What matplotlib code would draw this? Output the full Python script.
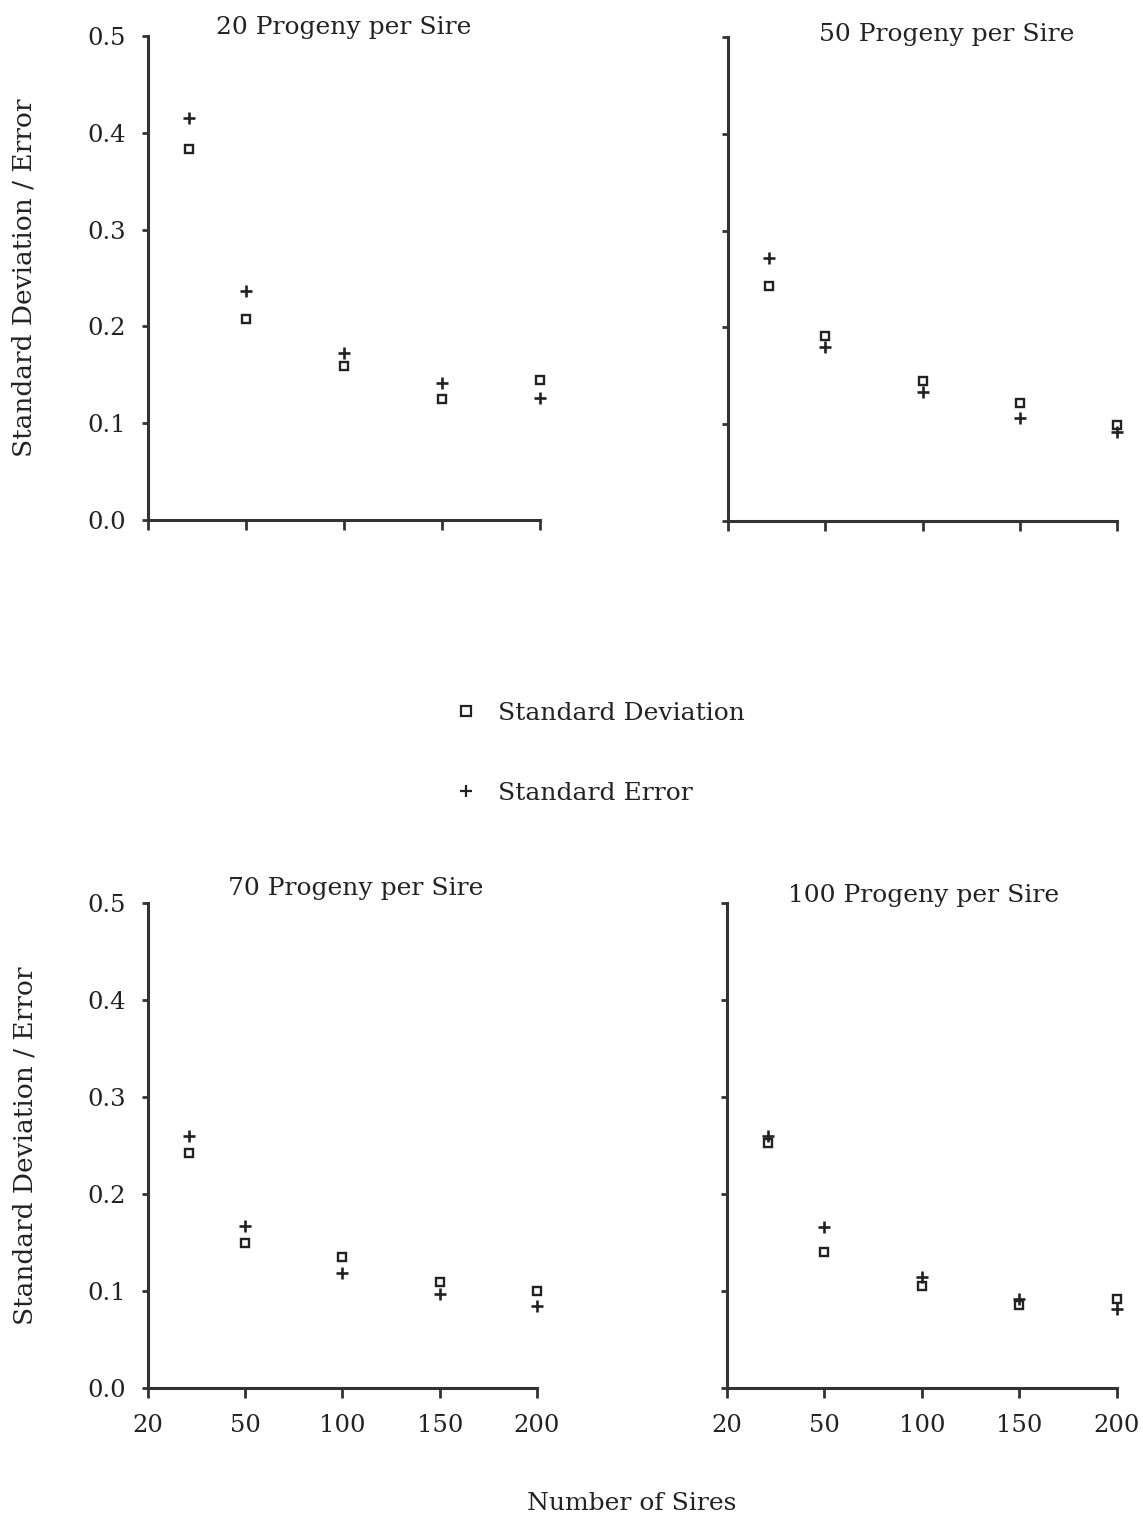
import matplotlib
matplotlib.use('Agg')
import matplotlib.pyplot as plt
from matplotlib.lines import Line2D

plt.rcParams['font.family'] = ['DejaVu Serif']

# Number of sires (x tick labels) and where each group is plotted
sire_labels = ['20', '50', '100', '150', '200']
sire_pos = [0.42, 1, 2, 3, 4]

progeny = ['20', '50', '70', '100']

# Standard deviation of the estimates, one list per progeny group
sd_20 = [0.383, 0.208, 0.159, 0.125, 0.145]
sd_50 = [0.243, 0.191, 0.145, 0.122, 0.099]
sd_70 = [0.242, 0.150, 0.135, 0.109, 0.100]
sd_100 = [0.253, 0.140, 0.105, 0.086, 0.092]

# Mean standard error, one list per progeny group
se_20 = [0.415, 0.237, 0.173, 0.142, 0.126]
se_50 = [0.272, 0.180, 0.133, 0.106, 0.092]
se_70 = [0.260, 0.167, 0.119, 0.097, 0.085]
se_100 = [0.260, 0.166, 0.114, 0.092, 0.081]

sd_all = [sd_20, sd_50, sd_70, sd_100]
se_all = [se_20, se_50, se_70, se_100]

ink = '#222222'
FS = 18      # titles, legend, x label
TICK_FS = 17.5
YLAB_FS = 19

fig = plt.figure(figsize=(11.43, 15.19), dpi=100)

# axes boxes [left, bottom, width, height] and title placement
boxes = [[0.1295, 0.6577, 0.3430, 0.3186],
         [0.6369, 0.6570, 0.3404, 0.3186],
         [0.1295, 0.0862, 0.3403, 0.3193],
         [0.6360, 0.0862, 0.3412, 0.3193]]
title_xy = [(0.50, 1.017), (0.563, 1.006), (0.535, 1.029), (0.505, 1.016)]

for i in range(4):
    ax = fig.add_axes(boxes[i])
    ax.plot(sire_pos, sd_all[i], 's', ms=6, mfc='none', mec=ink, mew=1.7,
            clip_on=False)
    ax.plot(sire_pos, se_all[i], '+', ms=8, mec=ink, mew=1.9,
            clip_on=False)

    ax.set_xlim(0, 4)
    ax.set_ylim(0, 0.5)
    ax.set_xticks(range(5))
    ax.set_yticks([0, 0.1, 0.2, 0.3, 0.4, 0.5])
    for s in ['top', 'right']:
        ax.spines[s].set_visible(False)
    for s in ['left', 'bottom']:
        ax.spines[s].set_linewidth(2.2)
        ax.spines[s].set_color('#333333')
    ax.tick_params(axis='x', direction='out', length=7, width=2,
                   color='#333333', labelsize=TICK_FS, pad=12, labelcolor=ink)
    ax.tick_params(axis='y', direction='out', length=4, width=2,
                   color='#333333', labelsize=TICK_FS, pad=12, labelcolor=ink)

    if i < 2:
        ax.set_xticklabels([])
    else:
        ax.set_xticklabels(sire_labels)
    if i % 2 == 1:
        ax.set_yticklabels([])
    else:
        ax.set_yticklabels(['0.0', '0.1', '0.2', '0.3', '0.4', '0.5'])
        ax.set_ylabel('Standard Deviation / Error', fontsize=YLAB_FS,
                      color=ink)
        ax.yaxis.set_label_coords(-0.285, 0.5)

    tx, ty = title_xy[i]
    ax.text(tx, ty, progeny[i] + ' Progeny per Sire', transform=ax.transAxes,
            ha='center', va='center', fontsize=FS, color=ink)

# legend in the middle of the page
handles = [Line2D([], [], ls='none', marker='s', ms=6.5, mfc='none', mec=ink,
                  mew=1.6),
           Line2D([], [], ls='none', marker='+', ms=8, mec=ink, mew=1.6)]
fig.legend(handles, ['Standard Deviation', 'Standard Error'],
           loc='center', bbox_to_anchor=(0.523, 0.504), frameon=False,
           fontsize=FS, labelspacing=2.3, handletextpad=0.7,
           handlelength=1.2, labelcolor=ink)

fig.text(0.553, 1 - 1503 / 1519, 'Number of Sires', ha='center',
         va='center', fontsize=FS, color=ink)

fig.savefig('out.png', dpi=100, facecolor='white')
